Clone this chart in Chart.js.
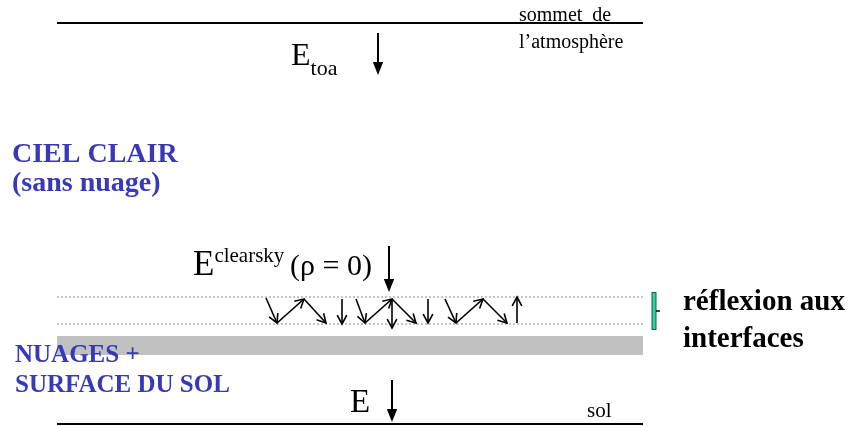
<!DOCTYPE html>
<html>
<head>
<meta charset="utf-8">
<script src="https://cdn.jsdelivr.net/npm/chart.js@4/dist/chart.umd.min.js"></script>
<style>
  html, body { margin: 0; padding: 0; background: #fff; }
  #wrap { width: 850px; height: 426px; }
</style>
</head>
<body>
<div id="wrap"><canvas id="myChart" width="850" height="426"></canvas></div>
<script>
// diagram levels (in diagram units, y going down)
const layerSpan = [57, 643];
const solidLevels = [23, 424];
const dottedLevels = [297, 324];
const cloudBand = [336, 355];

// main incoming fluxes: x, from y, to y
const fluxX = [378, 389, 392];
const fluxTop = [33, 246, 380];
const fluxBottom = [75, 292, 422];

// multiple reflections between the interfaces
const bounceX0 = [266, 277, 304, 342, 356, 365, 392, 392, 428, 445, 456, 483, 517];
const bounceY0 = [298, 323, 299, 299, 299, 323, 299, 299, 299, 299, 323, 299, 323];
const bounceX1 = [277, 304, 326, 342, 365, 392, 392, 416, 428, 456, 483, 507, 517];
const bounceY1 = [323, 299, 323, 324, 323, 299, 328, 323, 323, 323, 299, 323, 297];

const bracketX = 654;
const bracketY = [292, 330];

const serif = '"Liberation Serif", "Times New Roman", serif';
const blue = '#3838b8';

function seg(x0, x1, y) {
    return [{ x: x0, y: y }, { x: x1, y: y }];
}

const lineDefaults = { showLine: true, pointRadius: 0, borderColor: '#000', borderWidth: 2, fill: false };

const datasets = [
    Object.assign({}, lineDefaults, { data: seg(layerSpan[0], layerSpan[1], solidLevels[0]) }),
    Object.assign({}, lineDefaults, { data: seg(layerSpan[0], layerSpan[1], solidLevels[1]) }),
    Object.assign({}, lineDefaults, { data: seg(layerSpan[0], layerSpan[1], dottedLevels[0]), borderColor: '#8a8a8a', borderWidth: 1, borderDash: [2, 2] }),
    Object.assign({}, lineDefaults, { data: seg(layerSpan[0], layerSpan[1], dottedLevels[1]), borderColor: '#8a8a8a', borderWidth: 1, borderDash: [2, 2] }),
    Object.assign({}, lineDefaults, { data: seg(layerSpan[0], layerSpan[1], cloudBand[0]), borderColor: '#c0c0c0', borderWidth: 0 }),
    Object.assign({}, lineDefaults, { data: seg(layerSpan[0], layerSpan[1], cloudBand[1]), borderColor: '#c0c0c0', borderWidth: 0, fill: '-1', backgroundColor: '#c0c0c0' })
];

function arrow(ctx, x0, y0, x1, y1, head, filled) {
    const a = Math.atan2(y1 - y0, x1 - x0);
    const spread = filled ? 0.38 : 0.5;
    ctx.beginPath();
    ctx.moveTo(x0, y0);
    ctx.lineTo(filled ? x1 - Math.cos(a) * head * 0.6 : x1, filled ? y1 - Math.sin(a) * head * 0.6 : y1);
    ctx.stroke();
    ctx.beginPath();
    ctx.moveTo(x1 - head * Math.cos(a - spread), y1 - head * Math.sin(a - spread));
    ctx.lineTo(x1, y1);
    ctx.lineTo(x1 - head * Math.cos(a + spread), y1 - head * Math.sin(a + spread));
    if (filled) {
        ctx.closePath();
        ctx.fill();
    } else {
        ctx.stroke();
    }
}

const diagramPlugin = {
    id: 'diagram',
    afterDatasetsDraw(chart) {
        const ctx = chart.ctx;
        const sx = chart.scales.x, sy = chart.scales.y;
        const px = v => sx.getPixelForValue(v);
        const py = v => sy.getPixelForValue(v);
        ctx.save();
        ctx.strokeStyle = '#000';
        ctx.fillStyle = '#000';
        ctx.lineCap = 'butt';

        // big flux arrows
        ctx.lineWidth = 2;
        for (let i = 0; i < fluxX.length; i++) {
            arrow(ctx, px(fluxX[i]), py(fluxTop[i]), px(fluxX[i]), py(fluxBottom[i]), 14, true);
        }
        // reflections
        ctx.lineWidth = 1.6;
        for (let i = 0; i < bounceX0.length; i++) {
            arrow(ctx, px(bounceX0[i]), py(bounceY0[i]), px(bounceX1[i]), py(bounceY1[i]), 10, false);
        }

        // bracket
        ctx.lineWidth = 5;
        ctx.strokeStyle = '#1c5a48';
        ctx.beginPath();
        ctx.moveTo(px(bracketX), py(bracketY[0]));
        ctx.lineTo(px(bracketX), py(bracketY[1]));
        ctx.stroke();
        ctx.lineWidth = 3;
        ctx.strokeStyle = '#2fd4a0';
        ctx.beginPath();
        ctx.moveTo(px(bracketX), py(bracketY[0]) + 1);
        ctx.lineTo(px(bracketX), py(bracketY[1]) - 1);
        ctx.stroke();
        ctx.lineWidth = 1.5;
        ctx.strokeStyle = '#000';
        ctx.beginPath();
        ctx.moveTo(px(bracketX) + 2, py((bracketY[0] + bracketY[1]) / 2));
        ctx.lineTo(px(bracketX) + 6, py((bracketY[0] + bracketY[1]) / 2));
        ctx.stroke();

        // texts
        ctx.textBaseline = 'alphabetic';
        ctx.textAlign = 'left';
        function txt(s, x, y, font, color) {
            ctx.font = font;
            ctx.fillStyle = color || '#000';
            ctx.fillText(s, px(x), py(y));
            return ctx.measureText(s).width;
        }
        txt('sommet  de', 519, 21, '20px ' + serif);
        txt('l\u2019atmosph\u00e8re', 519, 48, '20px ' + serif);

        let w = txt('E', 291, 65, '32px ' + serif);
        txt('toa', 291 + w, 75, '22px ' + serif);

        w = txt('E', 193, 275, '35px ' + serif);
        let w2 = txt('clearsky', 193 + w, 262, '21px ' + serif);
        txt('(\u03c1 = 0)', 290, 275, '30px ' + serif);

        txt('E', 350, 412, '33px ' + serif);
        txt('sol', 587, 417, '21px ' + serif);

        txt('CIEL CLAIR', 12, 162, 'bold 28px ' + serif, blue);
        txt('(sans nuage)', 12, 191, 'bold 28px ' + serif, blue);
        txt('NUAGES +', 15, 362, 'bold 25px ' + serif, blue);
        txt('SURFACE DU SOL', 15, 392, 'bold 25px ' + serif, blue);

        txt('r\u00e9flexion aux', 683, 310, 'bold 29px ' + serif);
        txt('interfaces', 683, 347, 'bold 29px ' + serif);
        ctx.restore();
    }
};

const ctx = document.getElementById('myChart').getContext('2d');
new Chart(ctx, {
    type: 'scatter',
    data: { datasets: datasets },
    options: {
        responsive: false,
        animation: false,
        layout: { padding: 0 },
        plugins: { legend: { display: false }, tooltip: { enabled: false } },
        scales: {
            x: { type: 'linear', min: 0, max: 850, display: false },
            y: { type: 'linear', min: 0, max: 426, reverse: true, display: false }
        }
    },
    plugins: [diagramPlugin]
});
</script>
</body>
</html>
